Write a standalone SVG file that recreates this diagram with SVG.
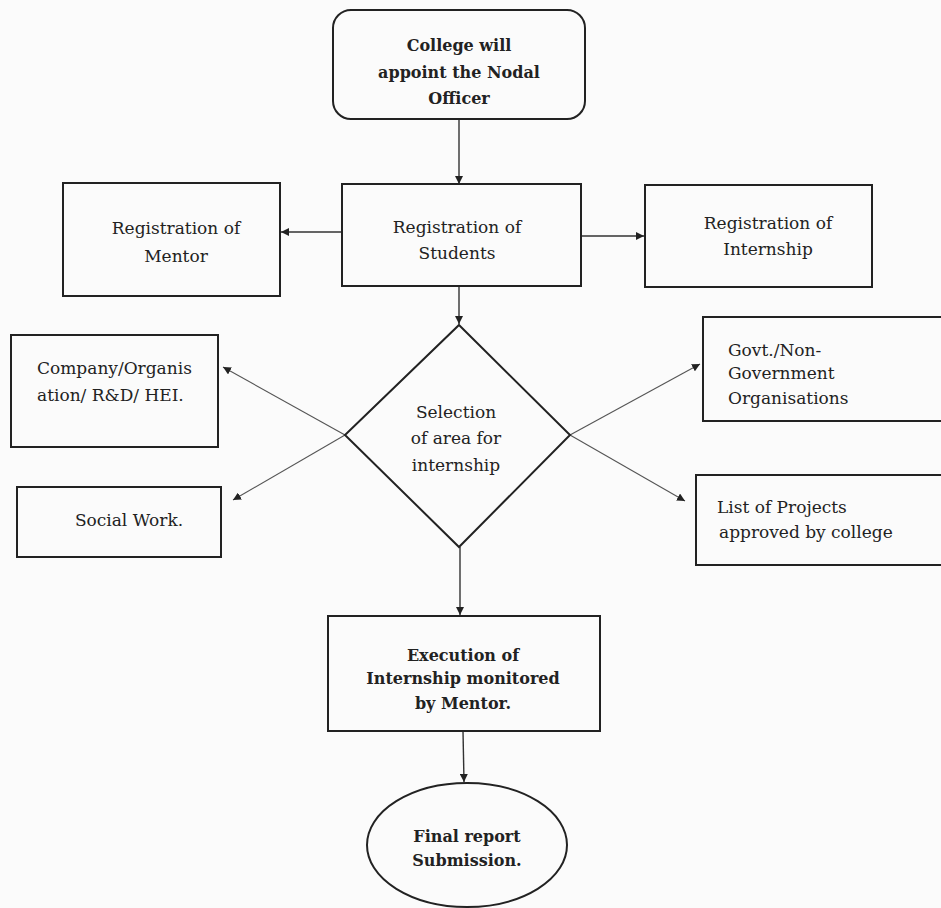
<svg xmlns="http://www.w3.org/2000/svg" width="941" height="908" viewBox="0 0 941 908">
<style>
.box{fill:none;stroke:#222;stroke-width:2}
.t{font-family:"DejaVu Serif","Liberation Serif",serif;font-size:17px;fill:#222;text-anchor:middle}
.tl{text-anchor:start}
.b{font-weight:bold;font-size:16px}
.c{stroke:#333;stroke-width:1.4;fill:none}
.d{stroke:#555;stroke-width:1.1;fill:none}
</style>
<defs>
<marker id="ah" viewBox="0 0 10 10" refX="10" refY="5" markerWidth="8" markerHeight="8" markerUnits="userSpaceOnUse" orient="auto">
<path d="M0,0 L10,5 L0,10 Z" fill="#222"/>
</marker>
</defs>
<rect width="941" height="908" fill="#fbfbfb"/>
<g id="connectors">
<line class="c" x1="459" y1="119" x2="459" y2="184" marker-end="url(#ah)"/>
<line class="c" x1="342" y1="232" x2="281" y2="232" marker-end="url(#ah)"/>
<line class="c" x1="581" y1="236" x2="644" y2="236" marker-end="url(#ah)"/>
<line class="c" x1="459" y1="286" x2="459" y2="324" marker-end="url(#ah)"/>
<line class="d" x1="345" y1="435" x2="223" y2="367" marker-end="url(#ah)"/>
<line class="d" x1="345" y1="435" x2="233" y2="500" marker-end="url(#ah)"/>
<line class="d" x1="570" y1="435" x2="700" y2="364" marker-end="url(#ah)"/>
<line class="d" x1="570" y1="435" x2="685" y2="501" marker-end="url(#ah)"/>
<line class="c" x1="460" y1="547" x2="460" y2="615" marker-end="url(#ah)"/>
<line class="c" x1="463" y1="731" x2="464" y2="782" marker-end="url(#ah)"/>
</g>
<g id="nodal">
<rect class="box" x="333" y="10" width="252" height="109" rx="18"/>
<text class="t b" x="459" y="51">College will</text>
<text class="t b" x="459" y="78">appoint the Nodal</text>
<text class="t b" x="459" y="104">Officer</text>
</g>
<g id="students">
<rect class="box" x="342" y="184" width="239" height="102"/>
<text class="t" x="457" y="233">Registration of</text>
<text class="t" x="457" y="259">Students</text>
</g>
<g id="mentor">
<rect class="box" x="63" y="183" width="217" height="113"/>
<text class="t" x="176" y="234">Registration of</text>
<text class="t" x="176" y="262">Mentor</text>
</g>
<g id="internship">
<rect class="box" x="645" y="185" width="227" height="102"/>
<text class="t" x="768" y="229">Registration of</text>
<text class="t" x="768" y="255">Internship</text>
</g>
<g id="selection">
<polygon class="box" points="459,325 570,435 459,547 345,435"/>
<text class="t" x="456" y="418">Selection</text>
<text class="t" x="456" y="444">of area for</text>
<text class="t" x="456" y="471">internship</text>
</g>
<g id="company">
<rect class="box" x="11" y="335" width="207" height="112"/>
<text class="t tl" x="37" y="374">Company/Organis</text>
<text class="t tl" x="37" y="401">ation/ R&amp;D/ HEI.</text>
</g>
<g id="social">
<rect class="box" x="17" y="487" width="204" height="70"/>
<text class="t" x="129" y="526">Social Work.</text>
</g>
<g id="govt">
<rect class="box" x="703" y="317" width="245" height="104"/>
<text class="t tl" x="728" y="356">Govt./Non-</text>
<text class="t tl" x="728" y="379">Government</text>
<text class="t tl" x="728" y="404">Organisations</text>
</g>
<g id="projects">
<rect class="box" x="696" y="475" width="252" height="90"/>
<text class="t tl" x="717" y="513">List of Projects</text>
<text class="t tl" x="719" y="538">approved by college</text>
</g>
<g id="execution">
<rect class="box" x="328" y="616" width="272" height="115"/>
<text class="t b" x="463" y="661">Execution of</text>
<text class="t b" x="463" y="684">Internship monitored</text>
<text class="t b" x="463" y="709">by Mentor.</text>
</g>
<g id="final">
<ellipse class="box" cx="467" cy="845" rx="100" ry="62"/>
<text class="t b" x="467" y="842">Final report</text>
<text class="t b" x="467" y="866">Submission.</text>
</g>
</svg>
